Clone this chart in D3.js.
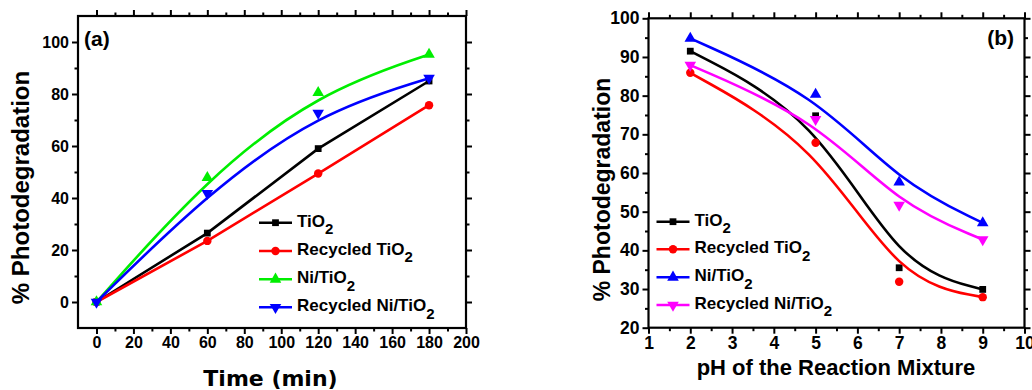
<!DOCTYPE html>
<html><head><meta charset="utf-8">
<script src="https://cdn.jsdelivr.net/npm/d3@7"></script>
<style>
body{margin:0;background:#fff;}
svg{display:block;}
text{font-family:"Liberation Sans",Arial,sans-serif;font-weight:bold;fill:#000;}
</style></head><body>
<svg id="c" width="1032" height="390"></svg>
<script>
// ---------- data ----------
const timeA = [0, 60, 120, 180];
const tio2A = [0, 26.5, 59, 85];
const recTio2A = [0, 23.5, 49.4, 75.7];
const niTio2A = [0, 47.8, 80.5, 95.2];
const recNiTio2A = [0, 41.8, 72.7, 86.1];

const phB = [2, 5, 7, 9];
const tio2B = [91.5, 74.8, 35.5, 29.9];
const recTio2B = [85.9, 67.8, 31.9, 27.9];
const niTio2B = [94.8, 80.3, 57.6, 47.1];
const recNiTio2B = [87.9, 73.9, 51.7, 42.8];

const seriesNames = ["TiO", "Recycled TiO", "Ni/TiO", "Recycled Ni/TiO"];
const xTicksA = [0, 20, 40, 60, 80, 100, 120, 140, 160, 180, 200];
const yTicksA = [0, 20, 40, 60, 80, 100];
const xTicksB = [1, 2, 3, 4, 5, 6, 7, 8, 9, 10];
const yTicksB = [20, 30, 40, 50, 60, 70, 80, 90, 100];

// ---------- drawing ----------
const svg = d3.select("#c");
const symSquare = d3.symbol().type(d3.symbolSquare).size(46);
const symCircle = d3.symbol().type(d3.symbolCircle).size(56);
const symTriUp = d3.symbol().type(d3.symbolTriangle).size(58);
const symTriDown = d3.symbol().type(d3.symbolTriangle).size(58);
const symbols = [symSquare, symCircle, symTriUp, symTriDown];

function panel(o) {
  const g = svg.append("g");
  const x = d3.scaleLinear().domain(o.xDom).range([o.left, o.right]);
  const y = d3.scaleLinear().domain(o.yDom).range([o.bottom, o.top]);

  const mk = (axisFn, scale, ticks, size, labels) => {
    const a = axisFn(scale).tickValues(ticks).tickSizeInner(size).tickSizeOuter(0).tickPadding(3);
    if (!labels) a.tickFormat("");
    return a;
  };
  function axes(axisFn, scale, major, minor, transform, labels, fs) {
    const ga = g.append("g").attr("transform", transform).call(mk(axisFn, scale, major, 6, labels));
    const gm = g.append("g").attr("transform", transform).call(mk(axisFn, scale, minor, 3.5, false));
    [ga, gm].forEach(s => {
      s.select(".domain").remove();
      s.selectAll("line").attr("stroke", "#000").attr("stroke-width", 2);
      s.selectAll("text").attr("font-size", fs).style("font-family", "'Liberation Sans',Arial,sans-serif").style("font-weight", "bold").attr("fill", "#000");
    });
    return ga;
  }
  axes(d3.axisBottom, x, o.xTicks, o.xMinor, `translate(0,${o.bottom})`, true, o.tickFs);
  axes(d3.axisTop, x, o.xTicks, o.xMinor, `translate(0,${o.top})`, false, o.tickFs);
  axes(d3.axisLeft, y, o.yTicks, o.yMinor, `translate(${o.left},0)`, true, o.tickFs);
  axes(d3.axisRight, y, o.yTicks, o.yMinor, `translate(${o.right},0)`, false, o.tickFs);

  g.append("rect").attr("x", o.left).attr("y", o.top)
    .attr("width", o.right - o.left).attr("height", o.bottom - o.top)
    .attr("fill", "none").attr("stroke", "#000").attr("stroke-width", 2.2);

  o.series.forEach((s, i) => {
    const pts = o.xs.map((v, k) => [x(v), y(s.vals[k])]);
    g.append("path").attr("d", d3.line().curve(s.curve)(pts))
      .attr("fill", "none").attr("stroke", s.color).attr("stroke-width", 2.6);
    pts.forEach(p => {
      g.append("path").attr("d", symbols[i]())
        .attr("transform", `translate(${p[0]},${p[1]})` + (i === 3 ? " rotate(180)" : ""))
        .attr("fill", s.color);
    });
  });

  // legend
  o.series.forEach((s, i) => {
    const ly = o.legY[i];
    g.append("line").attr("x1", o.legX).attr("x2", o.legX + 33).attr("y1", ly).attr("y2", ly)
      .attr("stroke", s.color).attr("stroke-width", 2.6);
    g.append("path").attr("d", symbols[i]())
      .attr("transform", `translate(${o.legX + 16.5},${ly})` + (i === 3 ? " rotate(180)" : ""))
      .attr("fill", s.color);
    const t = g.append("text").attr("x", o.legX + 38).attr("y", ly + 3.8).attr("font-size", 17);
    t.append("tspan").text(seriesNames[i]);
    t.append("tspan").attr("dy", 7.5).attr("font-size", 15).text("2");
  });

  // titles
  g.append("text").attr("x", o.xtX).attr("y", o.xtY).attr("text-anchor", "middle")
    .attr("font-size", o.xtFs).style("font-family", o.xtFont).text(o.xTitle);
  g.append("text").attr("transform", `translate(${o.ytX},${o.ytY}) rotate(-90)`)
    .attr("text-anchor", "middle").attr("font-size", o.ytFs).text("% Photodegradation");
  g.append("text").attr("x", o.labX).attr("y", o.labY).attr("text-anchor", o.labAnchor)
    .attr("font-size", 21).text(o.label);
}

const range = (a, b, s) => d3.range(a, b + s / 2, s);

panel({
  left: 78, right: 466, top: 16, bottom: 328,
  xDom: [-10, 200], yDom: [-10, 110],
  xTicks: xTicksA, yTicks: yTicksA,
  xMinor: range(10, 190, 20), yMinor: range(10, 90, 20),
  tickFs: 16,
  xs: timeA,
  series: [
    {vals: tio2A, color: "#000000", curve: d3.curveLinear},
    {vals: recTio2A, color: "#ff0000", curve: d3.curveLinear},
    {vals: niTio2A, color: "#00ee00", curve: d3.curveBasis},
    {vals: recNiTio2A, color: "#0000ff", curve: d3.curveBasis}
  ],
  legX: 259, legY: [222.7, 251, 279.3, 307.3],
  xTitle: "Time (min)", xtX: 270.5, xtY: 386, xtFs: 22, xtFont: "'DejaVu Sans',sans-serif",
  ytX: 29, ytY: 187.5, ytFs: 24,
  label: "(a)", labX: 84, labY: 46, labAnchor: "start"
});

panel({
  left: 648.5, right: 1024.5, top: 18.3, bottom: 327.7,
  xDom: [1, 10], yDom: [20, 100],
  xTicks: xTicksB, yTicks: yTicksB,
  xMinor: range(1.5, 9.5, 1), yMinor: range(25, 95, 10),
  tickFs: 17.5,
  xs: phB,
  series: [
    {vals: tio2B, color: "#000000", curve: d3.curveBasis},
    {vals: recTio2B, color: "#ff0000", curve: d3.curveBasis},
    {vals: niTio2B, color: "#0000ff", curve: d3.curveBasis},
    {vals: recNiTio2B, color: "#ff00ff", curve: d3.curveBasis}
  ],
  legX: 656.5, legY: [221.7, 249.3, 277.3, 305],
  xTitle: "pH of the Reaction Mixture", xtX: 836, xtY: 375, xtFs: 22, xtFont: "'Liberation Sans',Arial,sans-serif",
  ytX: 610, ytY: 189.5, ytFs: 23,
  label: "(b)", labX: 1014, labY: 45, labAnchor: "end"
});
</script>
</body></html>
